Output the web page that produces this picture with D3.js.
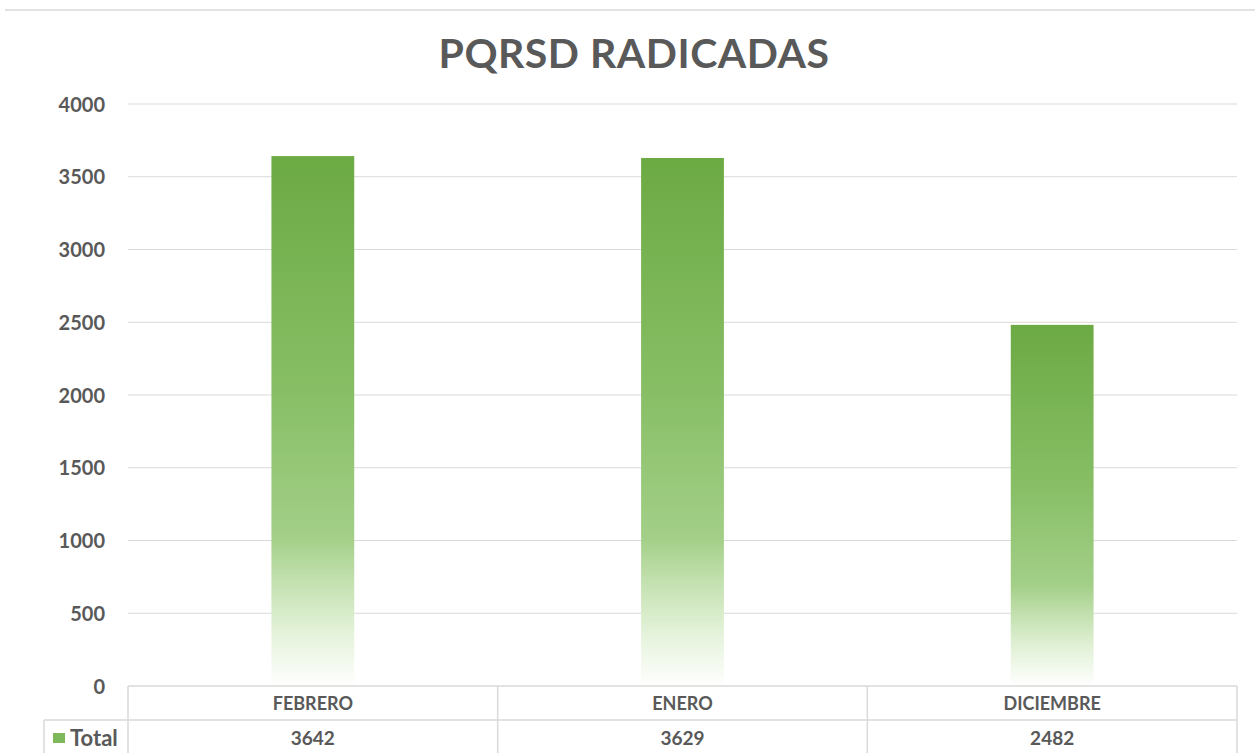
<!DOCTYPE html>
<html>
<head>
<meta charset="utf-8">
<script src="https://cdn.jsdelivr.net/npm/d3@7"></script>
<style>
  html, body { margin: 0; padding: 0; background: #fff; }
  svg { display: block; }
</style>
</head>
<body>
<svg id="chart" width="1255" height="753"></svg>
<script>
const categories = ["FEBRERO", "ENERO", "DICIEMBRE"];
const values = [3642, 3629, 2482];
const yTicks = [0, 500, 1000, 1500, 2000, 2500, 3000, 3500, 4000];
const seriesName = "Total";
const title = "PQRSD RADICADAS";

const W = 1255, H = 753;
const plot = { left: 128, right: 1237, top: 104, bottom: 686 };
const rowH = 34;
const textColor = "#595959";
const font = "Lato, 'Open Sans', 'DejaVu Sans', sans-serif";

const svg = d3.select("#chart");

const defs = svg.append("defs");
const grad = defs.append("linearGradient")
  .attr("id", "barGrad").attr("x1", 0).attr("y1", 0).attr("x2", 0).attr("y2", 1);
[[0, "#6CAA44"], [0.45, "#88BF66"], [0.72, "#A3CF88"], [0.8, "#C2E0AE"], [0.9, "#E4F2DA"], [1, "#FFFFFF"]]
  .forEach(([o, c]) => grad.append("stop").attr("offset", o).attr("stop-color", c));

// top thin line
svg.append("line").attr("x1", 5).attr("x2", W).attr("y1", 10).attr("y2", 10)
  .attr("stroke", "#d9d9d9").attr("stroke-width", 1.5);

// title
svg.append("text").attr("x", 634).attr("y", 68).attr("text-anchor", "middle")
  .attr("font-family", font).attr("font-weight", "bold").attr("font-size", 41)
  .attr("letter-spacing", 0.5).attr("fill", textColor).text(title);

const x = d3.scaleBand().domain(categories).range([plot.left, plot.right]).paddingInner(0).paddingOuter(0);
const y = d3.scaleLinear().domain([0, 4000]).range([plot.bottom, plot.top]);

// gridlines
svg.append("g").selectAll("line").data(yTicks.filter(d => d > 0)).join("line")
  .attr("x1", plot.left).attr("x2", plot.right)
  .attr("y1", d => y(d)).attr("y2", d => y(d))
  .attr("stroke", "#d9d9d9").attr("stroke-width", 1.2);

// y axis labels
const yAxis = d3.axisLeft(y).tickValues(yTicks).tickSize(0).tickPadding(0).tickFormat(d3.format("d"));
const gy = svg.append("g").attr("transform", `translate(105,0)`).call(yAxis);
gy.select(".domain").remove();
gy.selectAll("text").attr("font-family", font).attr("font-weight", "bold")
  .attr("font-size", 20).attr("fill", textColor).attr("dy", "0.35em");

// bars
const barW = x.bandwidth() * 0.224;
svg.append("g").selectAll("rect").data(values).join("rect")
  .attr("x", (d, i) => x(categories[i]) + x.bandwidth() / 2 - barW / 2)
  .attr("width", barW)
  .attr("y", d => y(d))
  .attr("height", d => y(0) - y(d))
  .attr("fill", "url(#barGrad)");

// data table
const tbl = svg.append("g").attr("stroke", "#d9d9d9").attr("stroke-width", 1.5).attr("fill", "none");
tbl.append("line").attr("x1", plot.left).attr("x2", plot.right).attr("y1", plot.bottom).attr("y2", plot.bottom);
tbl.append("line").attr("x1", 44).attr("x2", plot.right).attr("y1", plot.bottom + rowH).attr("y2", plot.bottom + rowH);
tbl.append("line").attr("x1", 44).attr("x2", 44).attr("y1", plot.bottom + rowH).attr("y2", H);
const seps = categories.map(c => x(c)).concat([plot.right]);
tbl.selectAll("line.sep").data(seps).join("line").attr("class", "sep")
  .attr("x1", d => d).attr("x2", d => d).attr("y1", plot.bottom).attr("y2", H);

svg.append("g").selectAll("text").data(categories).join("text")
  .attr("x", d => x(d) + x.bandwidth() / 2).attr("y", plot.bottom + rowH / 2 + 1)
  .attr("dy", "0.35em").attr("text-anchor", "middle")
  .attr("font-family", font).attr("font-weight", "bold").attr("font-size", 18)
  .attr("fill", textColor).text(d => d);

svg.append("g").selectAll("text").data(values).join("text")
  .attr("x", (d, i) => x(categories[i]) + x.bandwidth() / 2).attr("y", plot.bottom + rowH + 18)
  .attr("dy", "0.35em").attr("text-anchor", "middle")
  .attr("font-family", font).attr("font-weight", "bold").attr("font-size", 19)
  .attr("fill", textColor).text(d => d);

// legend key
svg.append("rect").attr("x", 53).attr("y", 733).attr("width", 12).attr("height", 10)
  .attr("fill", "#7DB85A");
svg.append("text").attr("x", 70).attr("y", plot.bottom + rowH + 18).attr("dy", "0.35em")
  .attr("font-family", font).attr("font-weight", "bold").attr("font-size", 22)
  .attr("fill", textColor).text(seriesName);
</script>
</body>
</html>
